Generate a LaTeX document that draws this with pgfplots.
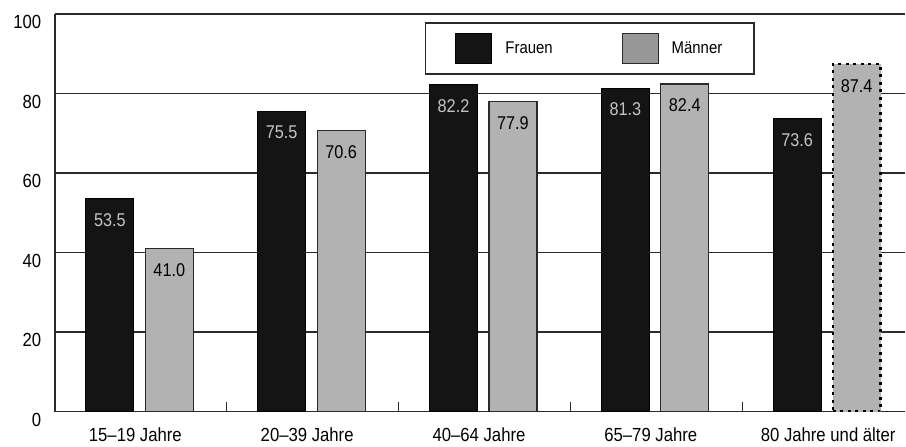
\documentclass[border=0pt]{standalone}
\usepackage{pgfplots}
\pgfplotsset{compat=1.18}
\usepackage{fontspec}
\setmainfont{Liberation Sans}[FakeStretch=0.88]
\definecolor{barblack}{HTML}{141414}
\definecolor{bargray}{HTML}{B2B2B2}
\definecolor{leggray}{HTML}{979797}
\definecolor{gridc}{HTML}{2A2A2A}
\definecolor{lbllight}{HTML}{C4C4C4}
\begin{document}
\begin{tikzpicture}
\begin{axis}[
  at={(55pt,35pt)}, anchor=south west,
  scale only axis, width=851pt, height=398pt,
  xmin=-0.5, xmax=4.448, ymin=0, ymax=100,
  axis x line*=bottom, axis y line*=left,
  axis line style={line width=1.8pt, draw=gridc, -},
  ytick={0,20,40,60,80,100},
  ymajorgrids, grid style={line width=1.6pt, draw=gridc},
  major tick length=0pt,
  /pgf/number format/assume math mode=true,
  yticklabel style={font=\fontsize{19}{22}\selectfont, anchor=east, inner sep=0pt, xshift=-13.5pt, yshift=-8pt},
  xtick={0,1,2,3,4},
  xticklabels={15–19 Jahre, 20–39 Jahre, 40–64 Jahre, 65–79 Jahre, \hspace*{11pt}80 Jahre und älter},
  xticklabel style={font=\fontsize{19}{22}\selectfont, anchor=base, inner sep=0pt, xshift=-5.5pt, yshift=-30pt},
  extra x ticks={0.5,1.5,2.5,3.5},
  extra x tick labels={},
  extra x tick style={major tick length=10pt, tick align=inside, tick style={line width=1.4pt, draw=gridc}, grid=none},
  ybar, bar width=48pt,
  nodes near coords={\pgfmathprintnumber[fixed,fixed zerofill,precision=1]{\pgfplotspointmeta}},
  nodes near coords style={font=\fontsize{18.5}{21}\selectfont, anchor=north, inner sep=0pt, yshift=-14pt},
  legend style={at={(0.4348,0.98)}, anchor=north west, draw=gridc, line width=1.8pt,
    inner xsep=30pt, inner ysep=10pt, font=\fontsize{17}{20}\selectfont,
    /tikz/every even column/.append style={column sep=67pt}},
  legend columns=2,
  legend image code/.code={\draw[#1, solid, line width=1pt] (0pt,-15pt) rectangle (36pt,15pt);},
]
\addplot[fill=barblack, draw=black, line width=1pt, bar shift=-31pt, forget plot,
  every node near coord/.append style={color=lbllight}]
  coordinates {(0,53.5) (1,75.5) (2,82.2) (3,81.3) (4,73.6)};
\addplot[fill=bargray, draw=gridc, line width=1.2pt, bar shift=28.5pt, forget plot,
  every node near coord/.append style={color=black}]
  coordinates {(0,41.0) (1,70.6) (2,77.9) (3,82.4)};
\addplot[fill=bargray, draw=black, line width=2.2pt, dash pattern=on 3pt off 4.5pt, bar shift=28.5pt, forget plot,
  every node near coord/.append style={color=black}]
  coordinates {(4,87.4)};
\addlegendimage{fill=barblack, draw=black}
\addlegendentry{\hspace*{11pt}Frauen}
\addlegendimage{fill=leggray, draw=gridc}
\addlegendentry{\hspace*{11pt}Männer}
\node[anchor=east, inner sep=0pt, font=\fontsize{19}{22}\selectfont] at (rel axis cs:0,1) [xshift=-14pt, yshift=-39.5pt] {\%};
\end{axis}
\path[use as bounding box] (0,0) rectangle (906pt,447pt);
\end{tikzpicture}
\end{document}
